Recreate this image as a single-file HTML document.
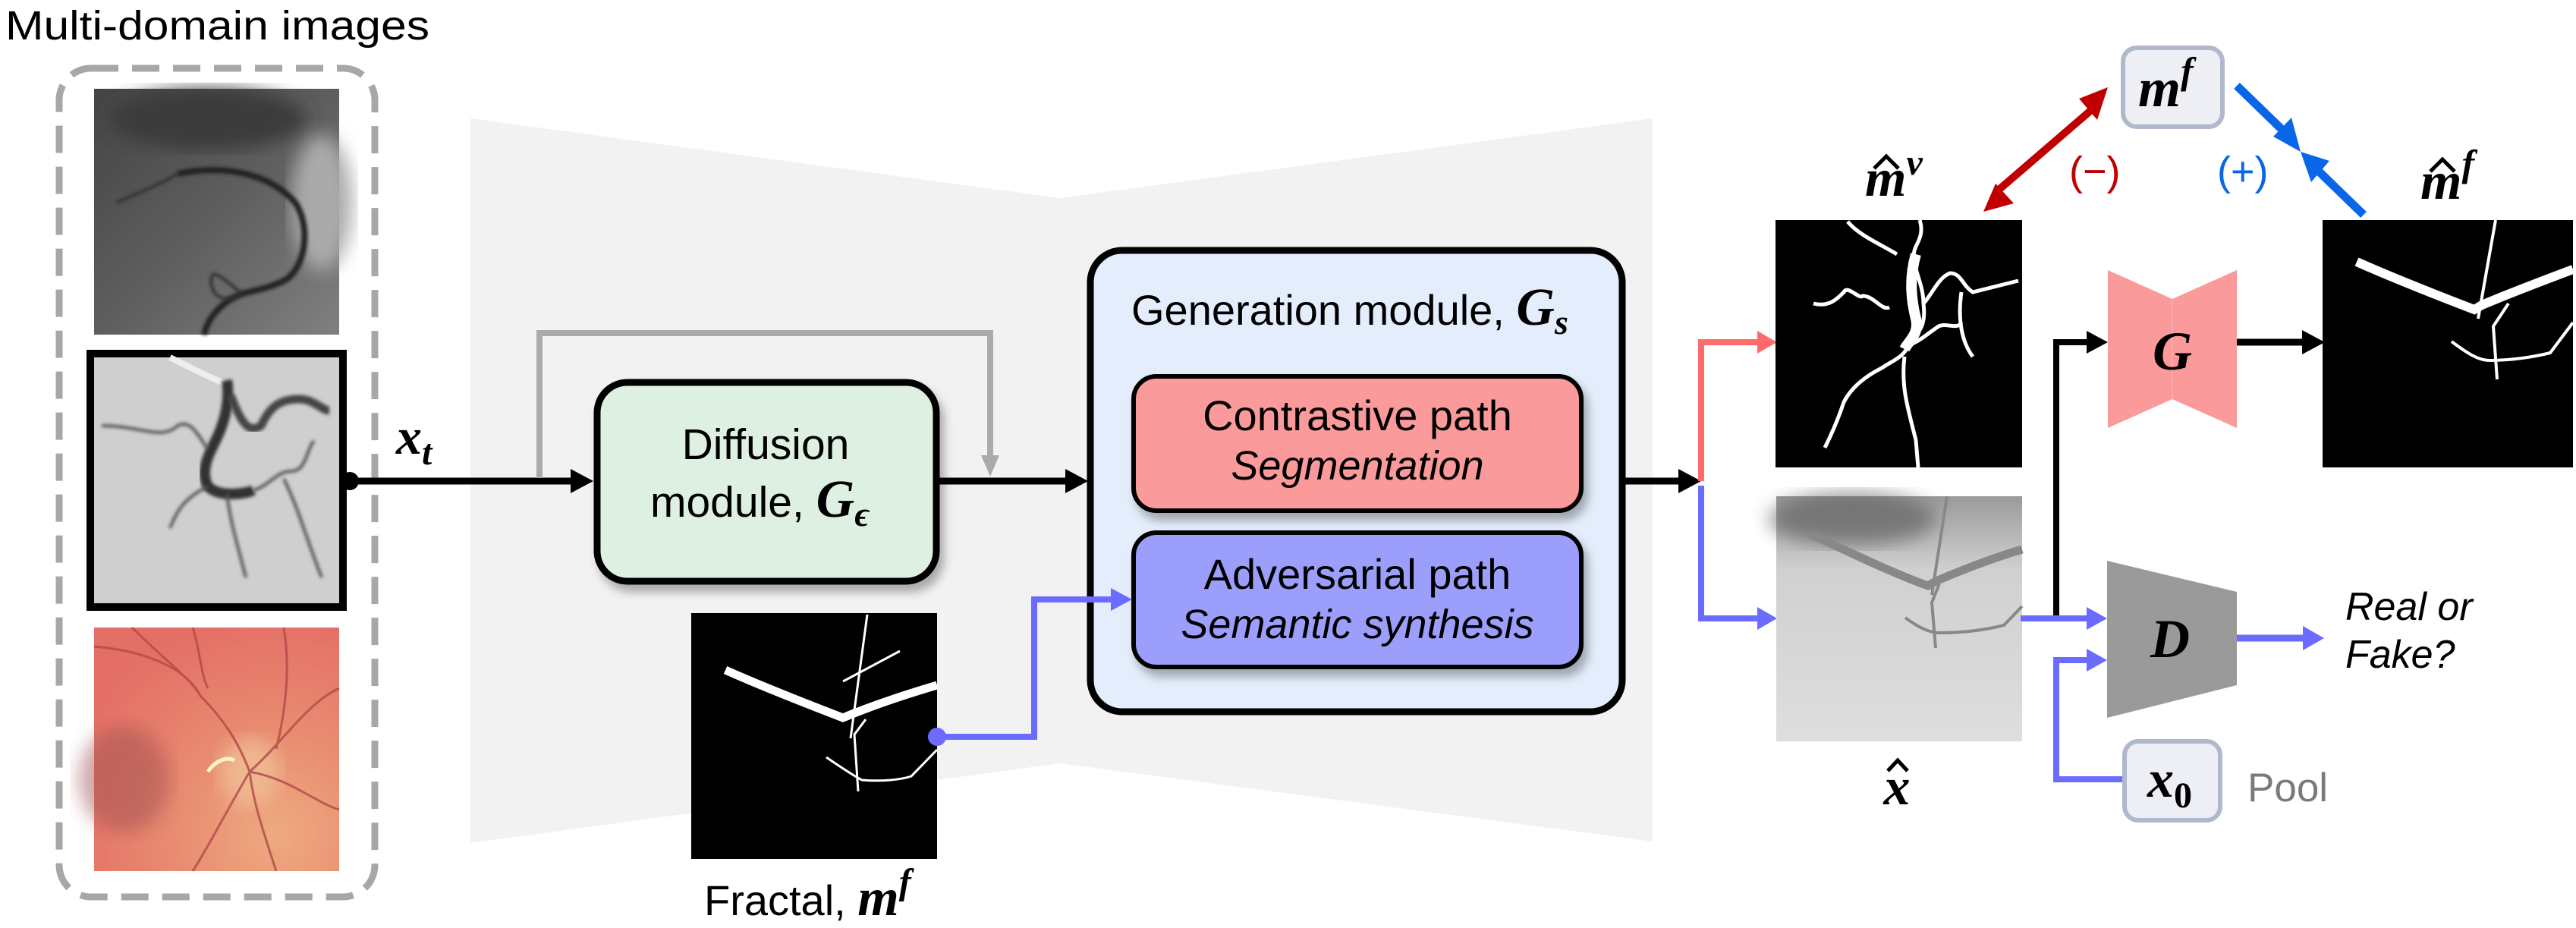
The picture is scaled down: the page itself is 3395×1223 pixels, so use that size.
<!DOCTYPE html>
<html><head><meta charset="utf-8"><style>
html,body{margin:0;padding:0;background:#fff}
svg{display:block}
text{font-family:"Liberation Sans",sans-serif}
.m{font-family:"Liberation Serif",serif;font-style:italic;font-weight:bold}
</style></head><body>
<svg width="3395" height="1223" viewBox="0 0 3395 1223" xmlns="http://www.w3.org/2000/svg">
<defs>
<filter id="bl"><feGaussianBlur stdDeviation="2"/></filter>
<filter id="bl6"><feGaussianBlur stdDeviation="12"/></filter>
<filter id="sh" x="-10%" y="-10%" width="130%" height="130%"><feDropShadow dx="6" dy="10" stdDeviation="6" flood-color="#000" flood-opacity="0.3"/></filter>
<radialGradient id="ret" cx="0.75" cy="0.85" r="0.9"><stop offset="0" stop-color="#eeaa80"/><stop offset="0.5" stop-color="#e88a70"/><stop offset="1" stop-color="#e46f66"/></radialGradient>
<linearGradient id="ag1" x1="0" y1="0" x2="1" y2="1"><stop offset="0" stop-color="#444"/><stop offset="0.5" stop-color="#5e5e5e"/><stop offset="1" stop-color="#808080"/></linearGradient>
<linearGradient id="xh" x1="0" y1="0" x2="0" y2="1"><stop offset="0" stop-color="#9a9a9a"/><stop offset="0.3" stop-color="#d0d0d0"/><stop offset="1" stop-color="#dedede"/></linearGradient>
</defs>

<polygon points="620,156 1397,261 2178,156 2178,1109 1397,1006 620,1111" fill="#f2f2f2"/>

<text x="7" y="52" font-size="54" textLength="559" lengthAdjust="spacingAndGlyphs">Multi-domain images</text>

<rect x="78" y="90" width="416" height="1092" rx="42" fill="none" stroke="#aaa6a6" stroke-width="9" stroke-dasharray="36,18"/>

<g transform="translate(124,117)">
<rect width="323" height="324" fill="url(#ag1)"/>
<ellipse cx="150" cy="40" rx="130" ry="40" fill="#3a3a3a" filter="url(#bl6)"/>
<ellipse cx="300" cy="150" rx="40" ry="90" fill="#aaa" filter="url(#bl6)"/>
<path d="M110,112 C170,100 230,110 265,150 C285,180 280,230 255,250 C240,260 215,265 195,270 C170,280 150,300 145,324" fill="none" stroke="#222" stroke-width="8" filter="url(#bl)"/>
<path d="M110,112 C80,130 50,140 30,150 M195,270 C170,250 150,230 155,260 C160,280 180,280 195,270" fill="none" stroke="#333" stroke-width="4" filter="url(#bl)"/>
</g>

<rect x="114" y="461" width="343" height="344" fill="#000"/>
<g transform="translate(124,471)">
<rect width="323" height="324" fill="#cfcfcf"/>
<path d="M100,0 C140,20 160,30 175,35" stroke="#eee" stroke-width="8" fill="none"/>
<path d="M175,30 C180,60 170,90 160,110 C150,130 140,150 150,170 C165,185 200,180 210,175" fill="none" stroke="#333" stroke-width="14" filter="url(#bl)"/>
<path d="M180,50 C195,90 205,100 220,90 C230,70 240,55 270,55 C290,55 300,70 310,70" fill="none" stroke="#444" stroke-width="11" filter="url(#bl)"/>
<path d="M150,170 C120,185 110,200 100,225 M210,175 C230,170 240,150 260,150 C280,150 280,120 290,110 M175,180 C180,220 190,250 200,290 M10,90 C60,90 90,110 110,90 C130,80 140,110 150,120 M250,160 C270,200 280,240 300,290" fill="none" stroke="#555" stroke-width="4" filter="url(#bl)"/>
</g>
<circle cx="461" cy="634" r="12" fill="#000"/>

<g transform="translate(124,827)">
<rect width="323" height="321" fill="url(#ret)"/>
<ellipse cx="40" cy="200" rx="60" ry="70" fill="#a05050" opacity="0.5" filter="url(#bl6)"/>
<ellipse cx="205" cy="190" rx="40" ry="45" fill="#f1c49a" opacity="0.7" filter="url(#bl6)"/>
<path d="M50,0 C90,40 130,70 140,90 C170,120 190,150 205,190 C210,230 220,260 240,321 M0,25 C60,30 120,50 140,90 M205,190 C250,150 280,100 323,80 M205,190 C260,200 290,230 323,240 M205,190 C170,250 150,290 130,321 M130,0 C140,30 140,60 150,80 M250,0 C260,60 250,120 240,160" fill="none" stroke="#b04848" stroke-width="3" opacity="0.8"/>
<path d="M150,190 C160,175 175,170 185,175" stroke="#fff3c8" stroke-width="5" fill="none"/>
</g>

<line x1="461" y1="634" x2="760" y2="634" stroke="#000" stroke-width="9"/>
<polygon points="782,634 752,618 752,650" fill="#000"/>
<text class="m" x="522" y="598" font-size="68">x<tspan font-size="48" dy="14">t</tspan></text>

<polyline points="711,630 711,439 1305,439 1305,605" fill="none" stroke="#aaa" stroke-width="8"/>
<polygon points="1305,628 1293,600 1317,600" fill="#aaa"/>

<rect x="787" y="504" width="447" height="262" rx="40" fill="#ddf0e1" stroke="#000" stroke-width="9" filter="url(#sh)"/>
<text x="1009" y="605" font-size="57" text-anchor="middle">Diffusion</text>
<text x="857" y="681" font-size="57">module, <tspan class="m" font-size="70">G</tspan><tspan class="m" font-size="46" dy="12">ϵ</tspan></text>

<line x1="1238" y1="634" x2="1410" y2="634" stroke="#000" stroke-width="9"/>
<polygon points="1434,634 1404,618 1404,650" fill="#000"/>

<rect x="1437" y="330" width="701" height="608" rx="42" fill="#e4edfc" stroke="#000" stroke-width="9"/>
<text x="1491" y="428" font-size="56">Generation module, <tspan class="m" font-size="70">G</tspan><tspan class="m" font-size="46" dy="12">s</tspan></text>
<rect x="1494" y="496" width="590" height="177" rx="30" fill="#fb9a9a" stroke="#000" stroke-width="6" filter="url(#sh)"/>
<text x="1789" y="567" font-size="56" text-anchor="middle">Contrastive path</text>
<text x="1789" y="632" font-size="54" font-style="italic" text-anchor="middle">Segmentation</text>
<rect x="1494" y="702" width="590" height="177" rx="30" fill="#9b9ffb" stroke="#000" stroke-width="6" filter="url(#sh)"/>
<text x="1789" y="776" font-size="56" text-anchor="middle">Adversarial path</text>
<text x="1789" y="841" font-size="54" font-style="italic" text-anchor="middle">Semantic synthesis</text>

<g transform="translate(911,808)">
<rect width="324" height="324" fill="#000"/>
<path d="M45,75 C90,95 140,115 200,138 L212,133 C250,118 290,105 324,95" fill="none" stroke="#fff" stroke-width="11"/>
<path d="M232,2 L210,165 M200,90 L275,50 M230,140 L215,160 L220,235 M178,190 C200,205 215,215 225,220 C250,222 275,220 290,215 L324,180" fill="none" stroke="#fff" stroke-width="3"/>
</g>
<text x="928" y="1206" font-size="56">Fractal, <tspan class="m" font-size="70">m</tspan><tspan class="m" font-size="48" dy="-28">f</tspan></text>

<circle cx="1235" cy="971" r="12" fill="#6b6bff"/>
<polyline points="1235,971 1363,971 1363,790 1470,790" fill="none" stroke="#6b6bff" stroke-width="8"/>
<polygon points="1492,790 1464,775 1464,805" fill="#6b6bff"/>

<line x1="2138" y1="634" x2="2218" y2="634" stroke="#000" stroke-width="9"/>
<polygon points="2242,634 2212,618 2212,650" fill="#000"/>
<polyline points="2242,634 2242,451 2320,451" fill="none" stroke="#ff6b6b" stroke-width="8"/>
<polygon points="2342,451 2316,436 2316,466" fill="#ff6b6b"/>
<polyline points="2242,640 2242,815 2320,815" fill="none" stroke="#6b6bff" stroke-width="8"/>
<polygon points="2342,815 2316,800 2316,830" fill="#6b6bff"/>

<g transform="translate(2340,290)">
<rect width="325" height="326" fill="#000"/>
<path d="M95,2 C110,20 135,30 160,45 M190,0 C195,15 190,25 185,35 C175,55 195,80 195,110 C200,150 180,150 175,165 C170,180 155,185 140,195 C120,205 100,220 90,240 C80,270 70,290 65,300 M195,110 C205,100 215,75 230,70 C245,70 245,85 260,95 L320,80 M175,165 C190,160 200,150 215,140 C225,135 240,145 245,135 M170,180 C165,220 175,250 185,290 L188,326 M50,110 C70,115 80,105 90,95 C95,85 110,105 115,100 C130,100 140,120 150,115 M245,95 C240,130 245,160 260,180" fill="none" stroke="#fff" stroke-width="5"/>
<path d="M185,45 C175,80 180,110 185,130 C190,150 175,160 170,170" fill="none" stroke="#fff" stroke-width="14"/>
</g>
<text class="m" x="2458" y="258" font-size="70">m<tspan font-size="48" dy="-28">v</tspan></text>
<polyline points="2470,222 2486,206 2502,222" fill="none" stroke="#000" stroke-width="5"/>

<g transform="translate(2341,654)">
<rect width="324" height="323" fill="url(#xh)"/>
<ellipse cx="100" cy="30" rx="110" ry="35" fill="#555" opacity="0.6" filter="url(#bl6)"/>
<path d="M45,50 C100,75 150,100 200,118 L210,112 C250,95 290,80 324,70" fill="none" stroke="#888" stroke-width="11"/>
<path d="M225,0 L205,130 M215,115 L205,140 L210,200 M170,160 C190,175 205,180 215,180 C250,180 280,175 300,170 L324,145" fill="none" stroke="#888" stroke-width="4"/>
</g>
<text class="m" x="2500" y="1060" font-size="70" text-anchor="middle">x</text>
<polyline points="2488,1016 2501,1002 2514,1016" fill="none" stroke="#000" stroke-width="5"/>

<rect x="2798" y="63" width="131" height="104" rx="18" fill="#edeff4" stroke="#b0b9cb" stroke-width="6"/>
<text class="m" x="2818" y="140" font-size="72">m<tspan font-size="50" dy="-30">f</tspan></text>

<line x1="2762" y1="140" x2="2632" y2="252" stroke="#c00000" stroke-width="10"/>
<polygon points="2778,115 2740,130 2764,158" fill="#c00000"/>
<polygon points="2614,279 2630,242 2654,268" fill="#c00000"/>
<text x="2727" y="244" font-size="54" fill="#c00000">(−)</text>

<line x1="2948" y1="113" x2="3015" y2="178" stroke="#0a66e8" stroke-width="11"/>
<polygon points="3032,200 2996,180 3020,155" fill="#0a66e8"/>
<line x1="3115" y1="283" x2="3050" y2="220" stroke="#0a66e8" stroke-width="11"/>
<polygon points="3032,200 3070,212 3046,240" fill="#0a66e8"/>
<text x="2922" y="244" font-size="54" fill="#0a66e8">(+)</text>

<polygon points="2778,356 2863,394 2948,356 2948,564 2863,526 2778,564" fill="#fb9a9a"/>
<line x1="2863" y1="394" x2="2863" y2="526" stroke="#ffb5b5" stroke-width="1"/>
<text class="m" x="2863" y="487" font-size="72" text-anchor="middle">G</text>

<polyline points="2710,812 2710,451 2756,451" fill="none" stroke="#000" stroke-width="8"/>
<polygon points="2778,451 2750,436 2750,466" fill="#000"/>
<line x1="2948" y1="451" x2="3040" y2="451" stroke="#000" stroke-width="9"/>
<polygon points="3064,451 3034,435 3034,467" fill="#000"/>

<g transform="translate(3061,290)">
<rect width="330" height="326" fill="#000"/>
<path d="M45,55 C90,75 140,95 200,118 L210,112 C250,95 290,80 330,65" fill="none" stroke="#fff" stroke-width="12"/>
<path d="M228,0 L205,130 M245,110 L225,140 L230,210 M170,160 C190,175 205,185 220,185 C250,185 280,180 300,175 L330,135" fill="none" stroke="#fff" stroke-width="4"/>
</g>
<text class="m" x="3190" y="262" font-size="70">m<tspan font-size="50" dy="-30">f</tspan></text>
<polyline points="3203,226 3219,210 3235,226" fill="none" stroke="#000" stroke-width="5"/>

<polygon points="2777,739 2948,780 2948,903 2777,946" fill="#9a9a9a"/>
<text class="m" x="2860" y="866" font-size="72" text-anchor="middle">D</text>
<polyline points="2663,815 2755,815" fill="none" stroke="#6b6bff" stroke-width="8"/>
<polygon points="2777,815 2750,800 2750,830" fill="#6b6bff"/>
<polyline points="2797,1027 2710,1027 2710,870 2755,870" fill="none" stroke="#6b6bff" stroke-width="8"/>
<polygon points="2777,870 2750,855 2750,885" fill="#6b6bff"/>
<line x1="2948" y1="841" x2="3040" y2="841" stroke="#6b6bff" stroke-width="9"/>
<polygon points="3063,841 3035,825 3035,857" fill="#6b6bff"/>
<text x="3091" y="817" font-size="52" font-style="italic">Real or</text>
<text x="3091" y="880" font-size="52" font-style="italic">Fake?</text>

<rect x="2800" y="977" width="126" height="104" rx="18" fill="#edeff4" stroke="#b0b9cb" stroke-width="6"/>
<text class="m" x="2830" y="1050" font-size="70">x<tspan font-size="48" font-style="normal" dy="14">0</tspan></text>
<text x="2962" y="1056" font-size="53" fill="#7a7a7a">Pool</text>
</svg>
</body></html>
